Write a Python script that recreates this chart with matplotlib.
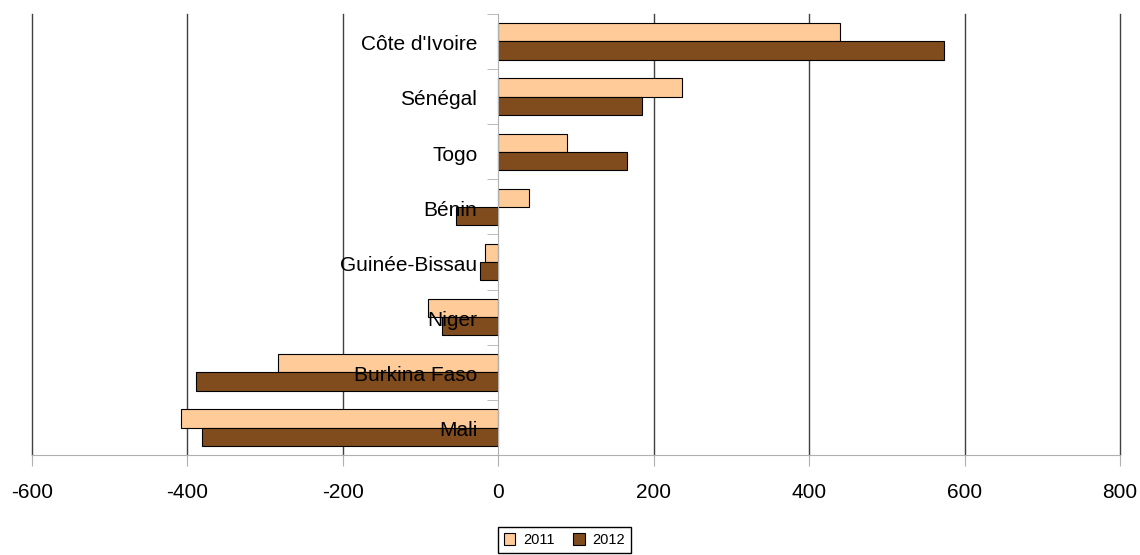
import matplotlib.pyplot as plt
import numpy as np

plt.rcParams["font.family"] = ["Liberation Sans", "DejaVu Sans"]

# Net balance by country, 2011 vs 2012
countries = ["Côte d'Ivoire", "Sénégal", "Togo", "Bénin",
             "Guinée-Bissau", "Niger", "Burkina Faso", "Mali"]
values_2011 = [440, 236, 89, 40, -17, -91, -283, -408]
values_2012 = [573, 185, 165, -55, -24, -72, -389, -381]
xticks = [-600, -400, -200, 0, 200, 400, 600, 800]

fig = plt.figure(figsize=(11.4, 5.55), dpi=100)
ax = fig.add_axes([0.028, 0.18, 0.9545, 0.795])

y = np.arange(len(countries))
h = 0.33
ax.barh(y - h / 2, values_2011, height=h, color="#FFCC99",
        edgecolor="black", linewidth=0.8, label="2011", zorder=2)
ax.barh(y + h / 2, values_2012, height=h, color="#804C1E",
        edgecolor="black", linewidth=0.8, label="2012", zorder=2)

ax.set_xlim(-600, 800)
ax.set_ylim(len(countries) - 0.5, -0.5)
ax.set_xticks(xticks)
ax.set_xticklabels([str(t) for t in xticks], fontsize=15)

# vertical gridlines under the bars
for t in xticks:
    if t != 0:
        ax.axvline(t, color="#404040", linewidth=1, zorder=0, clip_on=False)
ax.set_axisbelow(True)

for s in ["top", "right"]:
    ax.spines[s].set_visible(False)
ax.spines["left"].set_position(("data", 0))
ax.spines["left"].set_color("#b0b0b0")
ax.spines["bottom"].set_color("#b0b0b0")
ax.spines["left"].set_zorder(3)

ax.set_yticks([])
ax.set_yticks(np.arange(len(countries) + 1) - 0.5, minor=True)
ax.tick_params(axis="y", which="minor", length=8, color="#b0b0b0", direction="out")
ax.tick_params(axis="x", length=8, color="#b0b0b0", pad=12)

# category names sit just left of the zero axis, over the bars
for yi, name in zip(y, countries):
    ax.text(-27, yi + 0.06, name, ha="right", va="center", fontsize=15, zorder=5)

fig.legend(loc="center", bbox_to_anchor=(0.495, 0.027), ncol=2, fontsize=10.5,
           frameon=True, fancybox=False, edgecolor="black", handlelength=0.8,
           handleheight=0.8, handletextpad=0.5, columnspacing=1.3,
           borderpad=0.4, borderaxespad=0, framealpha=1)

fig.savefig("out.png", dpi=100)
